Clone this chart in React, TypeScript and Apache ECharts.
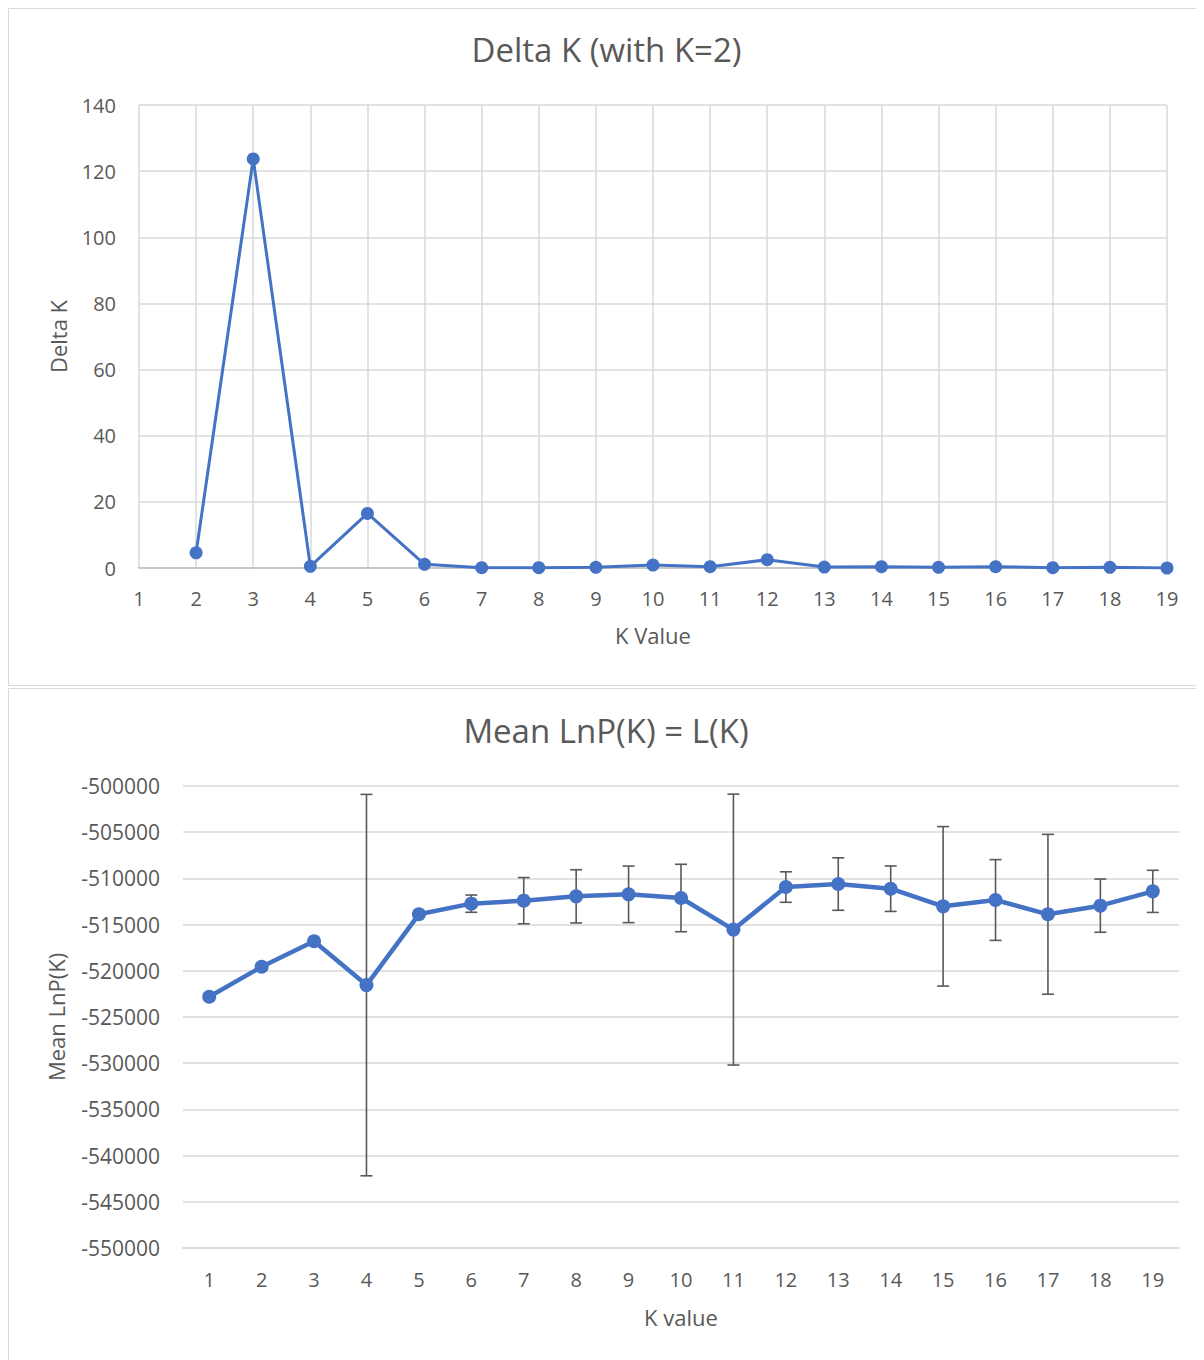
import React, { useEffect, useRef } from "react";
import * as echarts from "echarts";

const deltaKCategories = [2, 3, 4, 5, 6, 7, 8, 9, 10, 11, 12, 13, 14, 15, 16, 17, 18, 19];
const deltaKValues = [4.6, 123.7, 0.5, 16.5, 1.1, 0.1, 0.1, 0.2, 0.9, 0.4, 2.5, 0.3, 0.4, 0.2, 0.4, 0.1, 0.2, 0.0];

const lnpCategories = ["1", "2", "3", "4", "5", "6", "7", "8", "9", "10", "11", "12", "13", "14", "15", "16", "17", "18", "19"];
const meanLnP = [-522806, -519568, -516799, -521547, -513885, -512734, -512410, -511942, -511727, -512122, -515540, -510935, -510612, -511115, -513022, -512338, -513885, -512950, -511403];
const stdevLnP = [0, 0, 0, 20640, 0, 935, 2500, 2880, 3060, 3650, 14660, 1650, 2840, 2460, 8630, 4370, 8650, 2880, 2280];

const FONT = "'Open Sans', 'Noto Sans', sans-serif";
const TXT = "#595959";
const BLUE = "#4472C4";
const GRID = "#d9d9d9";

export default function App() {
  const ref = useRef<HTMLDivElement>(null);
  useEffect(() => {
    document.documentElement.style.overflow = "hidden";
    document.body.style.overflow = "hidden";
    const chart = echarts.init(ref.current!, undefined, { renderer: "svg" });
    const topData = deltaKCategories.map((k, i) => [k, deltaKValues[i]]);
    const errData = meanLnP.map((m, i) => [i, m - stdevLnP[i], m + stdevLnP[i]]);
    chart.setOption({
      animation: false,
      textStyle: { fontFamily: FONT },
      graphic: [
        { type: "rect", shape: { x: 0.5, y: 0.5, width: 1300, height: 677 }, style: { fill: "none", stroke: GRID, lineWidth: 1 }, silent: true },
        { type: "rect", shape: { x: 0.5, y: 680.5, width: 1300, height: 800 }, style: { fill: "none", stroke: GRID, lineWidth: 1 }, silent: true },
      ],
      title: [
        { text: "Delta K (with K=2)", left: 593.5, textAlign: "center", top: 20, textStyle: { fontFamily: FONT, fontSize: 33, fontWeight: "normal", color: TXT } },
        { text: "Mean LnP(K) = L(K)", left: 593, textAlign: "center", top: 701, textStyle: { fontFamily: FONT, fontSize: 33, fontWeight: "normal", color: TXT } },
      ],
      grid: [
        { left: 131, top: 97, width: 1028, height: 463 },
        { left: 175, top: 778, width: 996, height: 462 },
      ],
      xAxis: [
        {
          gridIndex: 0, type: "value", min: 1, max: 19, interval: 1,
          name: "K Value", nameLocation: "middle", nameGap: 56,
          nameTextStyle: { fontFamily: FONT, fontSize: 22, color: TXT },
          axisLine: { show: true, lineStyle: { color: "#bfbfbf", width: 1.5 } },
          axisTick: { show: false },
          axisLabel: { fontFamily: FONT, fontSize: 20, color: TXT, margin: 20 },
          splitLine: { show: true, lineStyle: { color: GRID, width: 1.5 } },
        },
        {
          gridIndex: 1, type: "category", data: lnpCategories, boundaryGap: true,
          name: "K value", nameLocation: "middle", nameGap: 58,
          nameTextStyle: { fontFamily: FONT, fontSize: 22, color: TXT },
          axisLine: { show: true, lineStyle: { color: GRID, width: 1.5 } },
          axisTick: { show: false },
          axisLabel: { fontFamily: FONT, fontSize: 20, color: TXT, margin: 21, interval: 0 },
          splitLine: { show: false },
        },
      ],
      yAxis: [
        {
          gridIndex: 0, type: "value", min: 0, max: 140, interval: 20,
          name: "Delta K", nameLocation: "middle", nameGap: 70,
          nameTextStyle: { fontFamily: FONT, fontSize: 22, color: TXT },
          axisLine: { show: false }, axisTick: { show: false },
          axisLabel: { fontFamily: FONT, fontSize: 20, color: TXT, margin: 23 },
          splitLine: { show: true, lineStyle: { color: GRID, width: 1.5 } },
        },
        {
          gridIndex: 1, type: "value", min: -550000, max: -500000, interval: 5000,
          name: "Mean LnP(K)", nameLocation: "middle", nameGap: 116,
          nameTextStyle: { fontFamily: FONT, fontSize: 22, color: TXT },
          axisLine: { show: false }, axisTick: { show: false },
          axisLabel: { fontFamily: FONT, fontSize: 21, color: TXT, margin: 23, formatter: (v: number) => String(v) },
          splitLine: { show: true, lineStyle: { color: GRID, width: 1.5 } },
        },
      ],
      series: [
        {
          type: "line", xAxisIndex: 0, yAxisIndex: 0, data: topData,
          symbol: "circle", symbolSize: 13,
          lineStyle: { color: BLUE, width: 3 }, itemStyle: { color: BLUE },
          z: 3,
        },
        {
          type: "custom", xAxisIndex: 1, yAxisIndex: 1, data: errData, z: 2,
          renderItem: (params: any, api: any) => {
            const idx = api.value(0);
            const lo = api.value(1);
            const hi = api.value(2);
            if (hi - lo <= 0) return { type: "group", children: [] };
            const p1 = api.coord([idx, hi]);
            const p2 = api.coord([idx, lo]);
            const st = { stroke: "#595959", lineWidth: 1.6 };
            const c = 6;
            return {
              type: "group",
              children: [
                { type: "line", shape: { x1: p1[0], y1: p1[1], x2: p2[0], y2: p2[1] }, style: st },
                { type: "line", shape: { x1: p1[0] - c, y1: p1[1], x2: p1[0] + c, y2: p1[1] }, style: st },
                { type: "line", shape: { x1: p2[0] - c, y1: p2[1], x2: p2[0] + c, y2: p2[1] }, style: st },
              ],
            };
          },
        },
        {
          type: "line", xAxisIndex: 1, yAxisIndex: 1, data: meanLnP,
          symbol: "circle", symbolSize: 14,
          lineStyle: { color: BLUE, width: 4.5 }, itemStyle: { color: BLUE },
          z: 3,
        },
      ],
    });
    return () => chart.dispose();
  }, []);
  return <div ref={ref} style={{ width: 1204, height: 1352 }} />;
}
